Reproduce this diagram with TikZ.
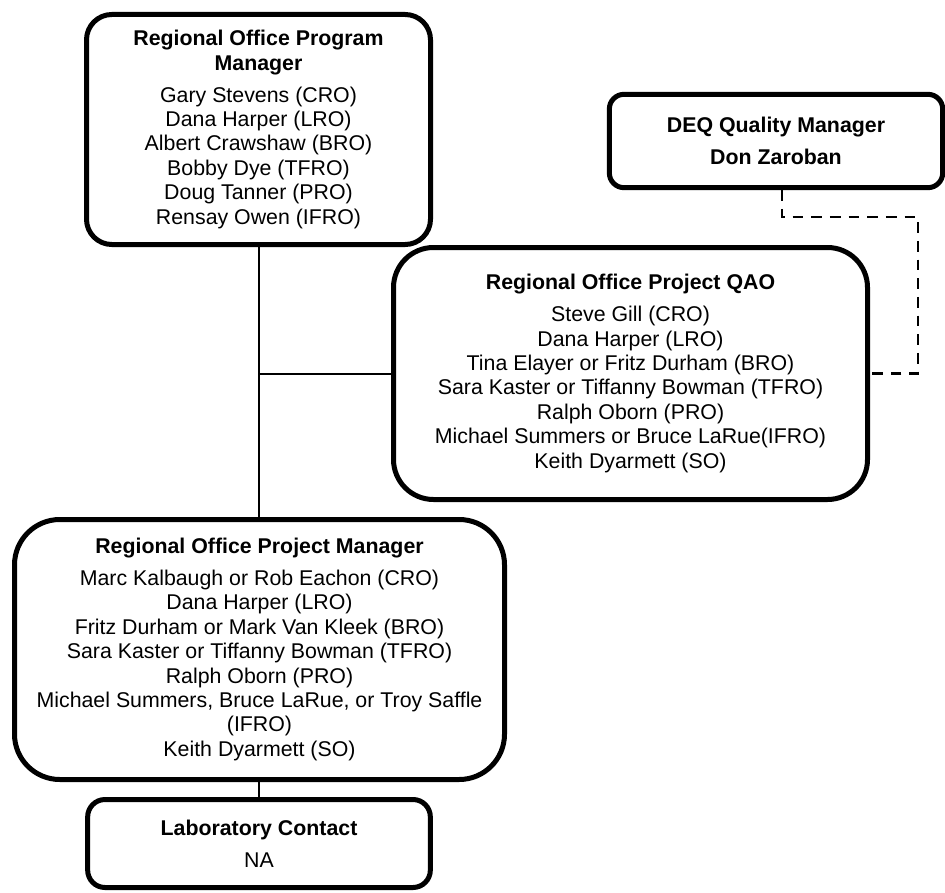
\documentclass[tikz,border=0pt]{standalone}
\usepackage{fontspec}
\setmainfont{Liberation Sans}
\usepackage{tikz}
\usetikzlibrary{positioning}

\begin{document}
\begin{tikzpicture}[
    x=0.75pt, y=-0.75pt,
    orgbox/.style={
        rectangle,
        draw=black,
        line width=3.75pt,
        align=center,
        inner sep=0pt,
        font=\fontsize{16}{18.3}\selectfont
    },
    link/.style={line width=1.5pt},
    dashlink/.style={line width=2pt, dash pattern=on 8pt off 6pt}
]

\useasboundingbox (0,0) rectangle (945,892);

% Program manager
\node[orgbox, rounded corners=19pt, minimum width=258pt, minimum height=172.5pt] (progmgr) at (258.5,129.5) {
    \textbf{Regional Office Program}\\\textbf{Manager}\\[5.5pt]
    Gary Stevens (CRO)\\
    Dana Harper (LRO)\\
    Albert Crawshaw (BRO)\\
    Bobby Dye (TFRO)\\
    Doug Tanner (PRO)\\
    Rensay Owen (IFRO)
};

% DEQ quality manager
\node[orgbox, rounded corners=11pt, minimum width=250pt, minimum height=70pt] (deqmgr) at (776,141) {
    \textbf{DEQ Quality Manager}\\[6pt]
    \textbf{Don Zaroban}
};

% Project QAO
\node[orgbox, rounded corners=30pt, minimum width=355.5pt, minimum height=189pt] (qao) at (630.5,373.5) {
    \textbf{Regional Office Project QAO}\\[5.5pt]
    Steve Gill (CRO)\\
    Dana Harper (LRO)\\
    Tina Elayer or Fritz Durham (BRO)\\
    Sara Kaster or Tiffanny Bowman (TFRO)\\
    Ralph Oborn (PRO)\\
    Michael Summers or Bruce LaRue(IFRO)\\
    Keith Dyarmett (SO)
};

% Project manager
\node[orgbox, rounded corners=34pt, minimum width=367.5pt, minimum height=195pt] (projmgr) at (259.5,649.5) {
    \textbf{Regional Office Project Manager}\\[5.5pt]
    Marc Kalbaugh or Rob Eachon (CRO)\\
    Dana Harper (LRO)\\
    Fritz Durham or Mark Van Kleek (BRO)\\
    Sara Kaster or Tiffanny Bowman (TFRO)\\
    Ralph Oborn (PRO)\\
    Michael Summers, Bruce LaRue, or Troy Saffle\\
    (IFRO)\\
    Keith Dyarmett (SO)
};

% Laboratory contact
\node[orgbox, rounded corners=13pt, minimum width=257pt, minimum height=66pt] (lab) at (259,843.5) {
    \textbf{Laboratory Contact}\\[6pt]
    NA
};

% Solid links
\draw[link] (progmgr.south) -- (progmgr.south |- projmgr.north);
\draw[link] (qao.west -| progmgr.south) -- (qao.west);
\draw[link] (projmgr.south -| lab.north) -- (lab.north);

% Dashed link to QA manager
\coordinate (qabend) at (918,217);
\draw[dashlink] ([xshift=4.5pt]deqmgr.south) |- (qabend) |- (qao.east);

\end{tikzpicture}
\end{document}
